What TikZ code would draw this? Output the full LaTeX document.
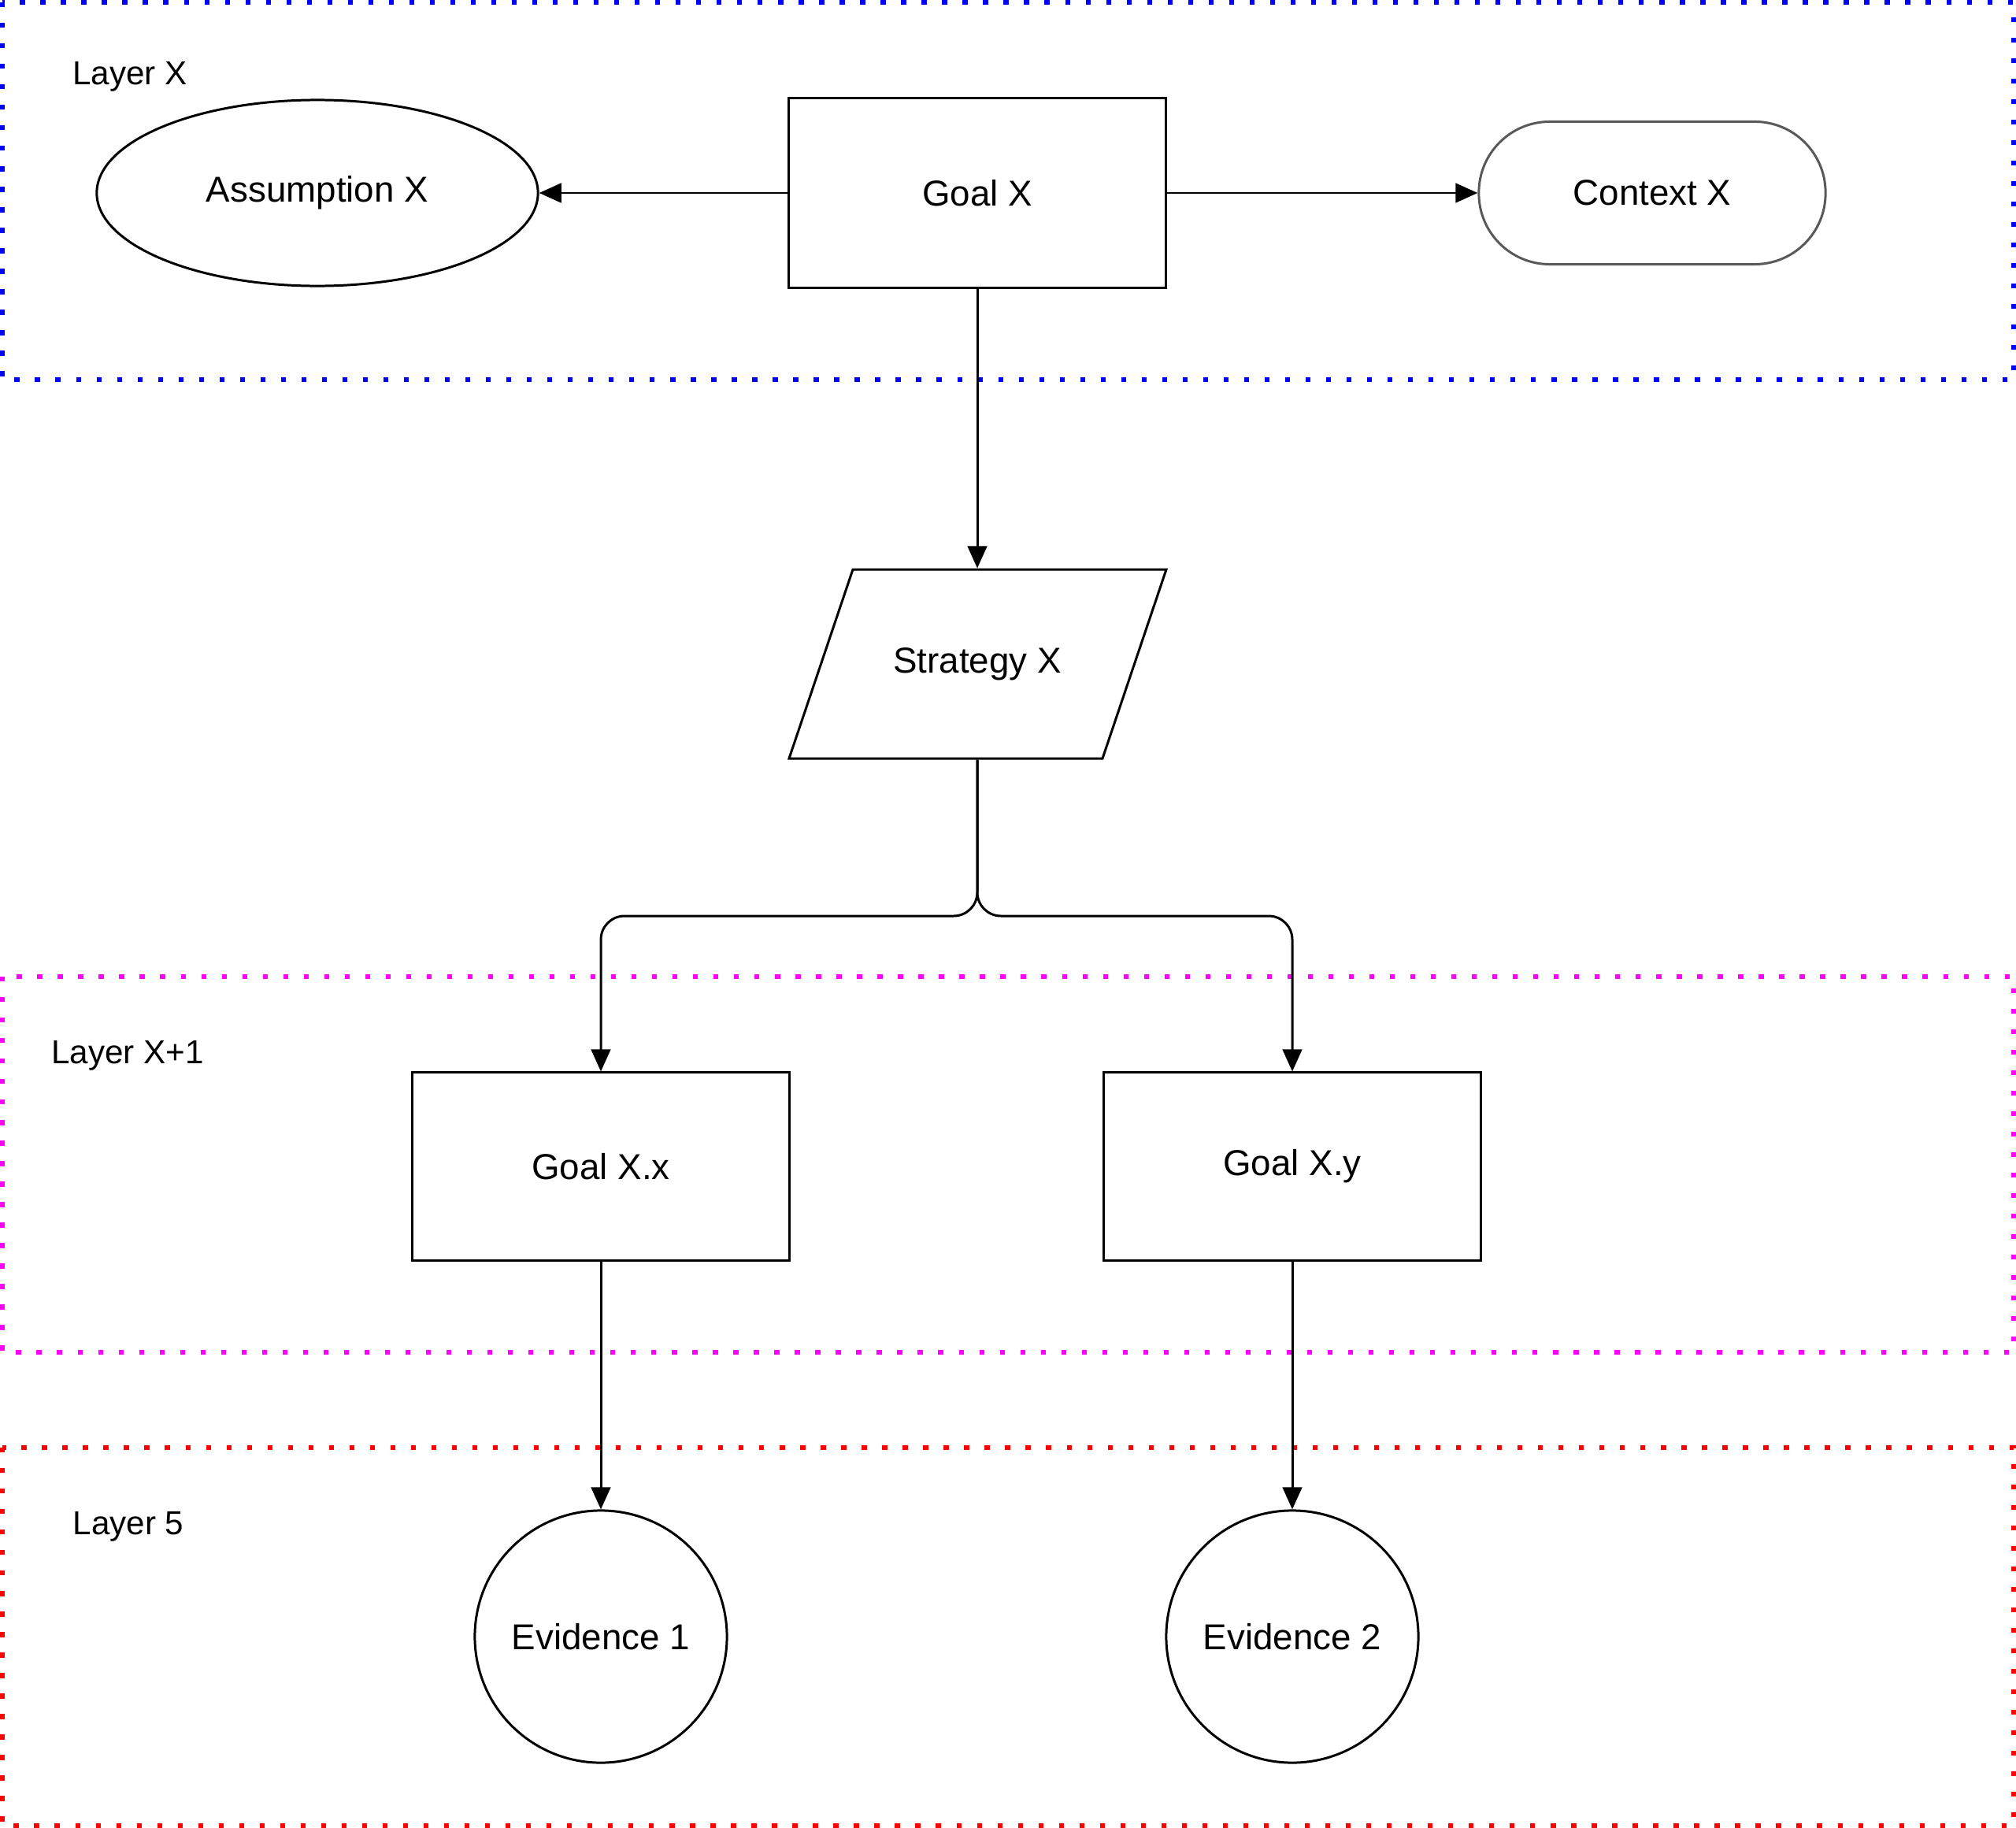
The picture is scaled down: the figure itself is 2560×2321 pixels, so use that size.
\documentclass[tikz,border=0pt]{standalone}
\usepackage{fontspec}
\setmainfont{Liberation Sans}
\usetikzlibrary{shapes.geometric,arrows.meta}
\definecolor{layerblue}{RGB}{0,0,255}
\definecolor{layerpink}{RGB}{255,0,255}
\definecolor{layerred}{RGB}{255,0,0}
\tikzstyle{arrow} = [-{Triangle[length=8pt,width=7pt]},line width=0.85pt]
\tikzstyle{box} = [draw,line width=0.85pt,font=\fontsize{13}{15}\selectfont]
\tikzstyle{layer} = [line width=1.8pt,dash pattern=on 1.8pt off 5.6pt]
\tikzstyle{tag} = [font=\fontsize{12}{14}\selectfont]

\begin{document}
\begin{tikzpicture}[x=0.01cm,y=-0.01cm]
        \useasboundingbox (0,0) rectangle (2560,2321);
        % layers
        \draw[layer, layerblue] (3,3) rectangle (2557,482);
        \draw[layer, layerpink] (3,1240) rectangle (2557,1717);
        \draw[layer, layerred] (3,1838) rectangle (2557,2318);
        \node[tag] at (165,97) (lx) {Layer X};
        \node[tag] at (162,1340) (lx1) {Layer X+1};
        \node[tag] at (163,1938) (l5) {Layer 5};

        % nodes
        \node[box, rectangle, minimum width=4.79cm, minimum height=2.4cm] at (1241,245) (goal) {Goal X};
        \node[box, ellipse, minimum width=5.6cm, minimum height=2.36cm] at (403,245) (asm) {Assumption X};
        \node[box, draw=gray!70!black, rounded corners=0.9cm, minimum width=4.4cm, minimum height=1.81cm] at (2098,245) (ctx) {Context X};
        \node[box, draw=none, minimum width=3.98cm, minimum height=2.4cm] at (1241,843) (strat) {Strategy X};
        \draw[line width=0.85pt] (1083,723) -- (1481,723) -- (1400,963) -- (1002,963) -- cycle;
        \node[box, minimum width=4.79cm, minimum height=2.38cm] at (763,1481) (gxx) {Goal X.x};
        \node[box, minimum width=4.79cm, minimum height=2.38cm] at (1641,1481) (gxy) {Goal X.y};
        \node[box, circle, minimum size=3.2cm] at (763,2078) (ev1) {Evidence 1};
        \node[box, circle, minimum size=3.2cm] at (1641,2078) (ev2) {Evidence 2};

        % connectors
        \draw[arrow] (goal) -- (asm);
        \draw[arrow] (goal) -- (ctx);
        \draw[arrow] (goal) -- (strat);
        \draw[arrow, rounded corners=0.3cm] (strat.south) -- (1241,1163) -- (763,1163) -- (gxx.north);
        \draw[arrow, rounded corners=0.3cm] (strat.south) -- (1241,1163) -- (1641,1163) -- (gxy.north);
        \draw[arrow] (gxx) -- (ev1);
        \draw[arrow] (gxy) -- (ev2);
\end{tikzpicture}
\end{document}
